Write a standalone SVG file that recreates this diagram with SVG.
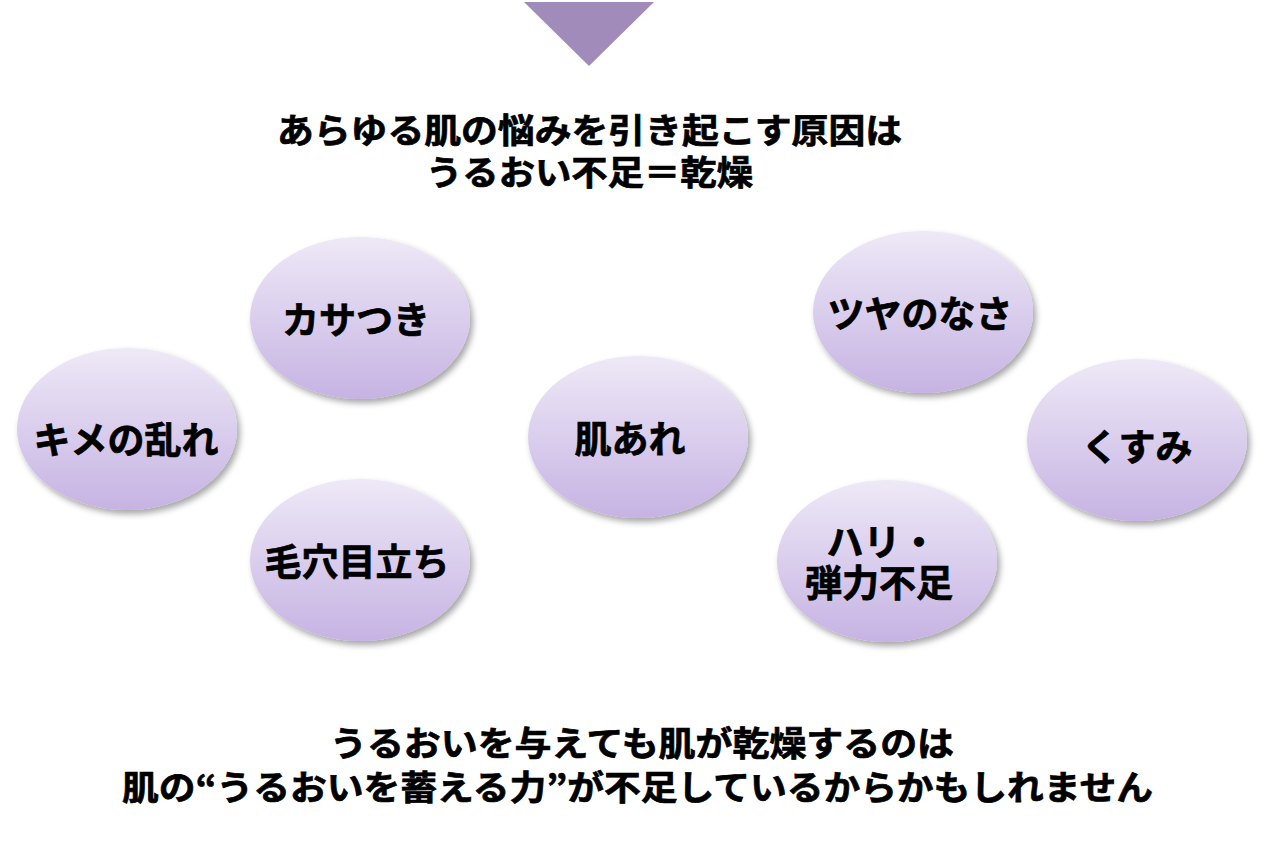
<svg xmlns="http://www.w3.org/2000/svg" width="1265" height="843" viewBox="0 0 1265 843">
<defs>
<linearGradient id="g" x1="0" y1="0" x2="0" y2="1">
<stop offset="0" stop-color="#eee9f7"/>
<stop offset="1" stop-color="#c6b3e3"/>
</linearGradient>
<filter id="sh" x="-20%" y="-20%" width="140%" height="140%">
<feDropShadow dx="3" dy="4" stdDeviation="3" flood-color="#000" flood-opacity="0.35"/>
</filter>
</defs>
<style>
.e{fill:url(#g);filter:url(#sh)}
text{font-family:"Noto Sans CJK JP","Noto Sans CJK SC",sans-serif;font-weight:bold;fill:#000;stroke:#000;stroke-width:0.7;dominant-baseline:central}
.n{font-size:37px;text-anchor:middle}
.h{font-size:34px}
</style>
<rect width="1265" height="843" fill="#fff"/>
<polygon points="524,2 654,2 589,66" fill="#a08bbb"/>
<text class="h" x="277" y="128" textLength="625" lengthAdjust="spacingAndGlyphs">あらゆる肌の悩みを引き起こす原因は</text>
<text class="h" x="426" y="170" textLength="327" lengthAdjust="spacingAndGlyphs">うるおい不足＝乾燥</text>
<g id="connectors"></g>
<g id="n1"><ellipse class="e" cx="127" cy="429" rx="110" ry="81"/><text class="n" x="126" y="438">キメの乱れ</text></g>
<g id="n2"><ellipse class="e" cx="360" cy="318" rx="110" ry="81"/><text class="n" x="356" y="318">カサつき</text></g>
<g id="n3"><ellipse class="e" cx="360" cy="560" rx="110" ry="81"/><text class="n" x="357" y="560">毛穴目立ち</text></g>
<g id="n4"><ellipse class="e" cx="638" cy="437" rx="110" ry="81"/><text class="n" x="630" y="437">肌あれ</text></g>
<g id="n5"><ellipse class="e" cx="923" cy="312" rx="110" ry="81"/><text class="n" x="920" y="312">ツヤのなさ</text></g>
<g id="n6"><ellipse class="e" cx="1137" cy="440" rx="110" ry="81"/><text class="n" x="1137" y="445">くすみ</text></g>
<g id="n7"><ellipse class="e" cx="887" cy="561" rx="110" ry="81"/><text class="n" x="882" y="540">ハリ・</text><text class="n" x="879" y="581">弾力不足</text></g>
<text class="h" x="330" y="741" textLength="624" lengthAdjust="spacingAndGlyphs">うるおいを与えても肌が乾燥するのは</text>
<text class="h" x="122" y="785" textLength="1031" lengthAdjust="spacingAndGlyphs">肌の“うるおいを蓄える力”が不足しているからかもしれません</text>
</svg>
